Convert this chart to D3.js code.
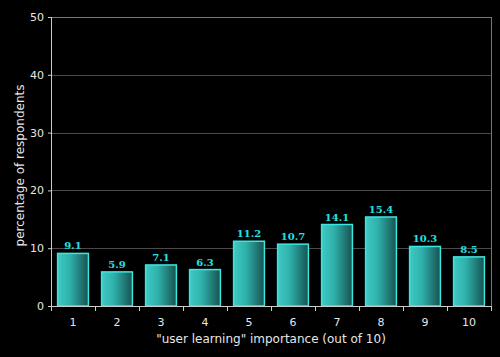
<!DOCTYPE html>
<html>
<head>
<meta charset="utf-8">
<script src="https://cdn.jsdelivr.net/npm/d3@7"></script>
<style>
body { margin: 0; background: #000; }
svg text { font-family: "DejaVu Sans", Verdana, sans-serif; }
</style>
</head>
<body>
<script>
var categories = ["1", "2", "3", "4", "5", "6", "7", "8", "9", "10"];
var values = [9.1, 5.9, 7.1, 6.3, 11.2, 10.7, 14.1, 15.4, 10.3, 8.5];
var yTicks = [0, 10, 20, 30, 40, 50];

var width = 500;
var height = 357;
var plotLeft = 51, plotRight = 491, plotTop = 17, plotBottom = 306;

var svg = d3.select("body")
    .append("svg")
    .attr("width", width)
    .attr("height", height);

svg.append("rect")
    .attr("width", width)
    .attr("height", height)
    .attr("fill", "#000");

var defs = svg.append("defs");
var grad = defs.append("linearGradient")
    .attr("id", "barGrad")
    .attr("x1", "0%").attr("x2", "100%")
    .attr("y1", "0%").attr("y2", "0%");
grad.append("stop").attr("offset", "0%").attr("stop-color", "#3fc9c3");
grad.append("stop").attr("offset", "40%").attr("stop-color", "#2fb0ab");
grad.append("stop").attr("offset", "100%").attr("stop-color", "#17524f");

// x scale
var x = d3.scaleBand()
    .domain(categories)
    .range([plotLeft, plotRight])
    .paddingInner(0.3)
    .paddingOuter(0.15);

// y scale
var y = d3.scaleLinear()
    .domain([0, 50])
    .range([plotBottom, plotTop]);

// grid lines
svg.append("g")
    .selectAll("line")
    .data(yTicks.slice(1))
    .enter()
    .append("line")
    .attr("x1", plotLeft)
    .attr("x2", plotRight)
    .attr("y1", function(d) { return Math.round(y(d)) + 0.5; })
    .attr("y2", function(d) { return Math.round(y(d)) + 0.5; })
    .attr("stroke", function(d) { return d == 50 ? "#777" : "#4a4a4a"; })
    .attr("stroke-width", 1);

// right border
svg.append("line")
    .attr("x1", plotRight + 0.5).attr("x2", plotRight + 0.5)
    .attr("y1", plotTop).attr("y2", plotBottom)
    .attr("stroke", "#777");

// bars
svg.append("g")
    .selectAll("rect")
    .data(values)
    .enter()
    .append("rect")
    .attr("x", function(d, i) { return x(categories[i]); })
    .attr("y", function(d) { return y(d); })
    .attr("width", x.bandwidth())
    .attr("height", function(d) { return plotBottom - y(d); })
    .attr("fill", "url(#barGrad)")
    .attr("stroke", "#3ee6e0")
    .attr("stroke-width", 1.5);

// value labels
svg.append("g")
    .selectAll("text")
    .data(values)
    .enter()
    .append("text")
    .attr("x", function(d, i) { return x(categories[i]) + x.bandwidth() / 2; })
    .attr("y", function(d) { return y(d) - 4; })
    .attr("text-anchor", "middle")
    .attr("fill", "#22e0e0")
    .attr("font-size", "10px")
    .attr("font-weight", "bold")
    .style("font-family", "'DejaVu Serif', serif")
    .text(function(d) { return d.toFixed(1); });

// y axis
var yAxis = d3.axisLeft(y)
    .tickValues(yTicks)
    .tickSize(3)
    .tickPadding(4);
var gy = svg.append("g")
    .attr("transform", "translate(" + plotLeft + ",0)")
    .call(yAxis);
gy.select(".domain").attr("stroke", "#ccc").attr("d", "M0.5," + plotTop + "V" + (plotBottom + 5));
gy.selectAll(".tick line").attr("stroke", "#ccc");
gy.selectAll(".tick text").attr("fill", "#e6e6e6").attr("font-size", "11px")
    .style("font-family", "'DejaVu Sans', Verdana, sans-serif");

// x axis
var xAxis = d3.axisBottom(x)
    .tickSize(0)
    .tickPadding(12);
var gx = svg.append("g")
    .attr("transform", "translate(0," + plotBottom + ")")
    .call(xAxis);
gx.select(".domain").attr("stroke", "#ccc").attr("d", "M" + plotLeft + ",0.5H" + plotRight);
gx.selectAll(".tick text").attr("fill", "#e6e6e6").attr("font-size", "11px")
    .style("font-family", "'DejaVu Sans', Verdana, sans-serif");

// band boundary ticks
var bounds = categories.map(function(c) { return x(c) + x.bandwidth() + x.step() * x.paddingInner() / 2; });
gx.append("g")
    .selectAll("line")
    .data(bounds)
    .enter()
    .append("line")
    .attr("x1", function(d) { return Math.round(d) + 0.5; })
    .attr("x2", function(d) { return Math.round(d) + 0.5; })
    .attr("y1", 0)
    .attr("y2", 5)
    .attr("stroke", "#ccc");

// axis titles
svg.append("text")
    .attr("x", (plotLeft + plotRight) / 2)
    .attr("y", 343)
    .attr("text-anchor", "middle")
    .attr("fill", "#e6e6e6")
    .attr("font-size", "12px")
    .text("\"user learning\" importance (out of 10)");

svg.append("text")
    .attr("transform", "translate(24," + ((plotTop + plotBottom) / 2 + 4) + ") rotate(-90)")
    .attr("text-anchor", "middle")
    .attr("fill", "#e6e6e6")
    .attr("font-size", "12px")
    .text("percentage of respondents");
</script>
</body>
</html>
